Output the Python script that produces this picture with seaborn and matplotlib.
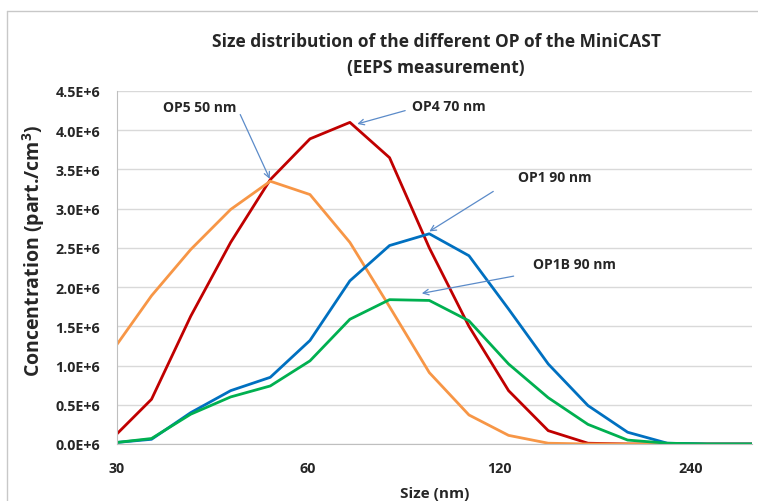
import numpy as np
import pandas as pd
import matplotlib
matplotlib.use("Agg")
import matplotlib.pyplot as plt
import matplotlib.ticker as mticker
import seaborn as sns

# EEPS channel mid-points (nm), first one at the axis start
sizes = [30.0, 34.0, 39.2, 45.3, 52.3, 60.4, 69.8, 80.6, 93.1, 107.5,
         124.1, 143.3, 165.5, 191.1, 220.7, 254.8, 294.3, 339.8]

# concentrations in part./cm3 (x 1e6)
op4 = [0.13, 0.57, 1.63, 2.57, 3.37, 3.89, 4.10, 3.65, 2.50, 1.50,
       0.68, 0.17, 0.01, 0.0, 0.0, 0.0, 0.0, 0.0]
op5 = [1.27, 1.89, 2.48, 2.99, 3.35, 3.18, 2.57, 1.75, 0.91, 0.37,
       0.11, 0.01, 0.0, 0.0, 0.0, 0.0, 0.0, 0.0]
op1 = [0.02, 0.06, 0.40, 0.68, 0.85, 1.32, 2.08, 2.53, 2.68, 2.40,
       1.72, 1.02, 0.49, 0.15, 0.01, 0.0, 0.0, 0.0]
op1b = [0.02, 0.07, 0.38, 0.60, 0.74, 1.06, 1.59, 1.84, 1.83, 1.57,
        1.02, 0.59, 0.25, 0.05, 0.01, 0.0, 0.0, 0.0]

series = {"OP4": op4, "OP5": op5, "OP1": op1, "OP1B": op1b}
colors = {"OP4": "#C00000", "OP5": "#F79646", "OP1": "#0070C0", "OP1B": "#00B050"}

x_ticks = [30, 60, 120, 240]

rows = []
for name, vals in series.items():
    for s, v in zip(sizes, vals):
        rows.append({"size": s, "conc": v * 1e6, "op": name})
df = pd.DataFrame(rows)

sns.set_style("white")
plt.rcParams['font.family'] = ['Open Sans', 'DejaVu Sans']
plt.rcParams['font.weight'] = 'bold'
plt.rcParams['mathtext.fontset'] = 'custom'
plt.rcParams['mathtext.rm'] = 'Open Sans'
plt.rcParams['mathtext.bf'] = 'Open Sans:bold'

fig = plt.figure(figsize=(7.58, 5.02), dpi=100)
ax = fig.add_axes([117 / 758, 57 / 502, 635 / 758, 353 / 502])

sns.lineplot(data=df, x="size", y="conc", hue="op", palette=colors,
             linewidth=2, legend=False, ax=ax, sort=False, estimator=None)

ax.set_xscale("log", base=2)
ax.set_xlim(30, 300)
ax.set_ylim(0, 4.5e6)
ax.set_xticks(x_ticks)
ax.xaxis.set_major_formatter(mticker.FuncFormatter(lambda v, p: f"{v:.0f}"))
ax.xaxis.set_minor_locator(mticker.NullLocator())
ax.set_yticks(np.arange(0, 4.51e6, 0.5e6))
ax.yaxis.set_major_formatter(mticker.FuncFormatter(lambda v, p: f"{v / 1e6:.1f}E+6"))

ax.grid(axis="y", color="#D9D9D9", linewidth=1)
ax.grid(axis="x", visible=False)
for side in ["top", "right"]:
    ax.spines[side].set_visible(False)
for side in ["left", "bottom"]:
    ax.spines[side].set_color("#BFBFBF")
ax.tick_params(axis="both", length=4, color="#BFBFBF", labelsize=10.3, pad=8)
for lab in ax.get_xticklabels() + ax.get_yticklabels():
    lab.set_fontweight("bold")

ax.set_xlabel("Size (nm)", fontsize=11, fontweight="bold")
ax.set_ylabel("Concentration (part./cm$^\\mathbf{3}$)", fontsize=14, fontweight="bold")
ax.xaxis.set_label_coords(0.5, -0.12)
ax.yaxis.set_label_coords(-0.11, 0.55)

fig.text(436 / 758, 1 - 42 / 502, "Size distribution of the different OP of the MiniCAST",
         ha="center", va="center", fontsize=12.5, fontweight="bold")
fig.text(436 / 758, 1 - 68 / 502, "(EEPS measurement)",
         ha="center", va="center", fontsize=12.5, fontweight="bold")

# chart area border
fig.add_artist(plt.Line2D([7 / 758, 1], [1 - 12 / 502, 1 - 12 / 502],
                          transform=fig.transFigure, color="#C8C8C8", lw=1))
fig.add_artist(plt.Line2D([7 / 758, 7 / 758], [0, 1 - 12 / 502],
                          transform=fig.transFigure, color="#C8C8C8", lw=1))

arrow = dict(arrowstyle="->", color="#5B8BC9", lw=0.9, shrinkA=0, shrinkB=0)
notes = [
    ("OP5 50 nm", (40.5, 4.29e6), "center", (46.9, 4.20e6), (52.2, 3.38e6)),
    ("OP4 70 nm", (87.5, 4.31e6), "left", (85.3, 4.25e6), (71.7, 4.08e6)),
    ("OP1 90 nm", (128.5, 3.40e6), "left", (117.4, 3.22e6), (93.1, 2.71e6)),
    ("OP1B 90 nm", (135.6, 2.29e6), "left", (126.4, 2.14e6), (90.6, 1.92e6)),
]
for text, pos, ha, start, end in notes:
    ax.text(pos[0], pos[1], text, ha=ha, va="center", fontsize=10, fontweight="bold")
    ax.annotate("", xy=end, xytext=start, arrowprops=arrow)

fig.savefig("out.png", dpi=100)
